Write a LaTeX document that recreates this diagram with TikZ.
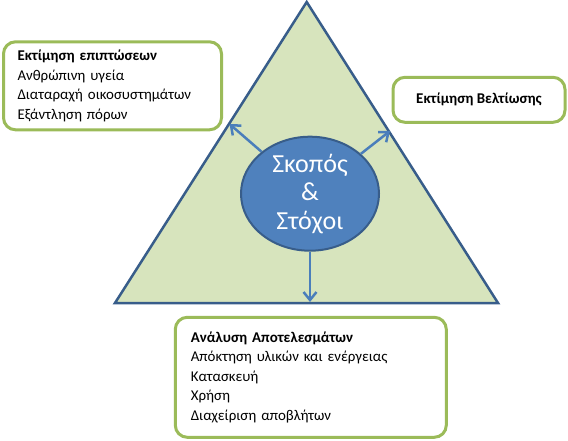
\documentclass[tikz,border=0pt]{standalone}
\usepackage{fontspec}
\setmainfont{Carlito}
\usetikzlibrary{shapes.geometric,arrows.meta}

\definecolor{trifill}{HTML}{D7E4BD}
\definecolor{triline}{HTML}{385D8A}
\definecolor{goalfill}{HTML}{4F81BD}
\definecolor{arrowblue}{HTML}{4A7EBB}
\definecolor{boxline}{HTML}{9BBB59}

\begin{document}
\begin{tikzpicture}[x=1pt,y=-1pt,
    infobox/.style={draw=boxline,line width=3pt,fill=white,rounded corners=12pt,
        align=left,font=\fontsize{14.9}{19.5}\selectfont,inner ysep=6pt},
    goal/.style={ellipse,draw=triline,line width=2pt,fill=goalfill,text=white,
        minimum width=138pt,minimum height=114pt,inner sep=0pt,align=center,
        font=\fontsize{26}{28.5}\selectfont},
    goalarrow/.style={draw=arrowblue,line width=2.5pt,-{Straight Barb[length=8pt,width=13pt]}}]

        \useasboundingbox (0,0) rectangle (568,441);

        % triangle
        \coordinate (apex) at (306.7, 2);
        \coordinate (bl) at (115, 303);
        \coordinate (br) at (498, 303);
        \draw [fill=trifill,draw=triline,line width=2.5pt,line join=miter] (apex) -- (br) -- (bl) -- cycle;

        % points on the sides
        \coordinate (sl) at (229.5, 124);
        \coordinate (sr) at (390, 131);
        \coordinate (sb) at (310, 302);

        % nodes
        \node [goal] (aims) at (310, 193.7) {Σκοπός\\\&\\Στόχοι};

        \node [infobox,minimum width=218pt,minimum height=88pt,text width=190pt,inner xsep=14pt]
            (impact) at (112.5, 85.8) {\textbf{Εκτίμηση επιπτώσεων}\\Ανθρώπινη υγεία\\Διαταραχή οικοσυστημάτων\\Εξάντληση πόρων};
        \node [infobox,minimum width=172pt,minimum height=45pt,align=center]
            (improve) at (479, 99.8) {\textbf{Εκτίμηση Βελτίωσης}};
        \node [infobox,minimum width=271pt,minimum height=120pt,text width=240pt,inner xsep=15.5pt]
            (results) at (310.8, 377.3) {\textbf{Ανάλυση Αποτελεσμάτων}\\Απόκτηση υλικών και ενέργειας\\Κατασκευή\\Χρήση\\Διαχείριση αποβλήτων};

        % arrows
        \draw [goalarrow] (aims) -- (sl);
        \draw [goalarrow] (aims) -- (sr);
        \draw [goalarrow] (aims) -- (sb);
    \end{tikzpicture}
\end{document}
